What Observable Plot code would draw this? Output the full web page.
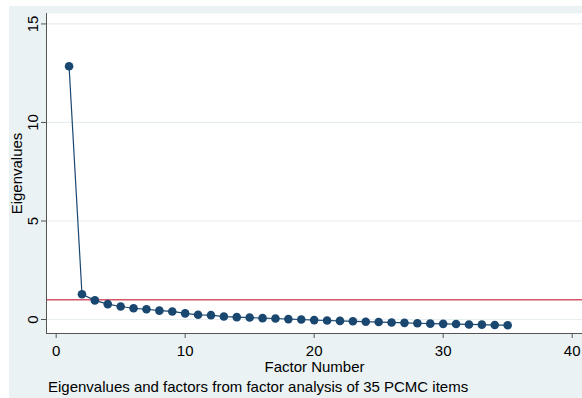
<!DOCTYPE html>
<html>
<head>
<meta charset="utf-8">
<script src="https://cdn.jsdelivr.net/npm/d3@7"></script>
<script src="https://cdn.jsdelivr.net/npm/@observablehq/plot@0.6"></script>
<style>
  html, body { margin: 0; padding: 0; background: #ffffff; width: 582px; height: 398px; overflow: hidden; }
  #bg { position: absolute; left: 9px; top: 6px; width: 573px; height: 392px; background: #eaf2f3; }
  #chart { position: absolute; left: 0; top: 0; }
  #caption { position: absolute; left: 48px; top: 378px; font-family: "Liberation Sans", Arial, sans-serif; font-size: 15px; color: #000; white-space: nowrap; line-height: 18px; }
</style>
</head>
<body>
<div id="bg"></div>
<div id="chart"></div>
<div id="caption"></div>
<script>
const factorNumbers = d3.range(1, 36);
const eigenvalues = [12.85, 1.28, 0.97, 0.78, 0.66, 0.57, 0.52, 0.45, 0.41, 0.31,
  0.24, 0.22, 0.15, 0.12, 0.10, 0.07, 0.05, 0.02, 0.0, -0.03,
  -0.05, -0.07, -0.09, -0.11, -0.13, -0.15, -0.17, -0.19, -0.21, -0.22,
  -0.23, -0.25, -0.26, -0.28, -0.29];
const xTicks = [0, 10, 20, 30, 40];
const yTicks = [0, 5, 10, 15];
const refLine = [1];
const xTitle = "Factor Number";
const yTitle = "Eigenvalues";
const captionText = "Eigenvalues and factors from factor analysis of 35 PCMC items";

const data = factorNumbers.map((f, i) => ({factor: f, eigen: eigenvalues[i]}));
const xDomain = [-0.75, 40.8];
const yDomain = [-0.71, 15.53];
const navy = "#1a476f";
const red = "#d4566a";
const axisColor = "#555";
const font = "Liberation Sans, Arial, sans-serif";

const chart = Plot.plot({
  width: 582,
  height: 376,
  marginTop: 13,
  marginBottom: 43,
  marginLeft: 46,
  marginRight: 0,
  style: {background: "transparent", fontFamily: font, fontSize: "15px", color: "#000"},
  x: {domain: xDomain, axis: null},
  y: {domain: yDomain, axis: null},
  marks: [
    Plot.frame({fill: "white", stroke: null}),
    Plot.ruleY(yTicks, {stroke: "#e6eef0", strokeWidth: 1.2}),
    Plot.ruleY(refLine, {stroke: red, strokeWidth: 1.5}),
    Plot.line(data, {x: "factor", y: "eigen", stroke: navy, strokeWidth: 1.2}),
    Plot.dot(data, {x: "factor", y: "eigen", r: 4.3, fill: navy, stroke: null}),
    Plot.ruleX([xDomain[0]], {stroke: axisColor, strokeWidth: 1}),
    Plot.ruleY([yDomain[0]], {stroke: axisColor, strokeWidth: 1}),
    Plot.axisX({ticks: xTicks, tickSize: 5, tickPadding: 7, label: null, stroke: axisColor, fontSize: 15, fill: "#000"}),
    Plot.axisY({ticks: yTicks, tickSize: 5, tickFormat: () => "", label: null, stroke: axisColor}),
    Plot.text(yTicks, {y: d => d, text: d => String(d), frameAnchor: "left", dx: -13, rotate: -90,
      textAnchor: "middle", lineAnchor: "middle", fontSize: 15, fill: "#000"}),
    Plot.text([yTitle], {frameAnchor: "left", dx: -29, rotate: -90, textAnchor: "middle",
      lineAnchor: "middle", fontSize: 15, fill: "#000"}),
    Plot.text([xTitle], {frameAnchor: "bottom", dy: 34, textAnchor: "middle",
      lineAnchor: "middle", fontSize: 15, fill: "#000"})
  ]
});
document.getElementById("chart").appendChild(chart);
document.getElementById("caption").textContent = captionText;
</script>
</body>
</html>
